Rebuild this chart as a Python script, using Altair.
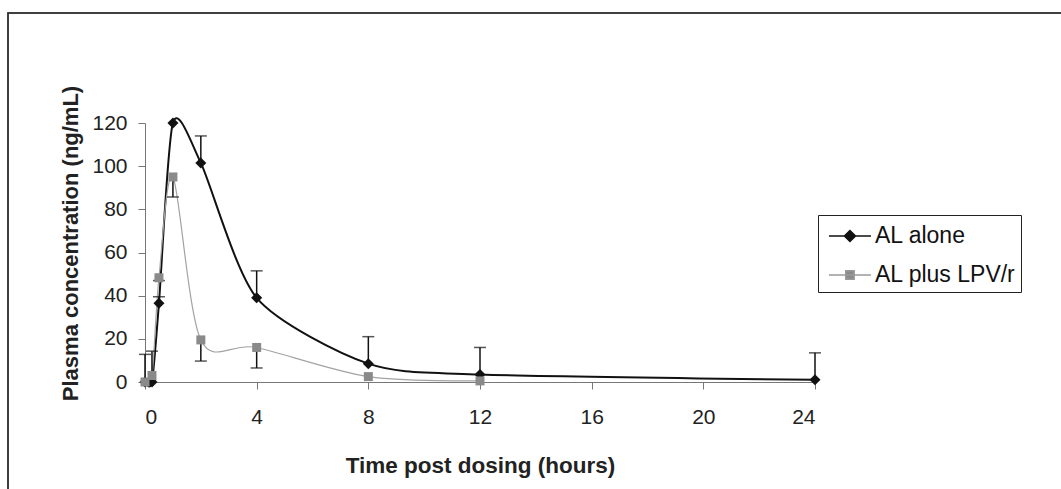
import altair as alt
import pandas as pd

# Sampling times (hours) and mean plasma concentrations (ng/mL)
time_al = [0, 0.25, 0.5, 1, 2, 4, 8, 12, 24]
conc_al = [0, 0, 36.5, 120, 101.5, 39, 8.5, 3.5, 1]
upper_al = [12.8, 14.3, 39.5, None, 114, 51.5, 21, 16, 13.5]

time_lpv = [0, 0.25, 0.5, 1, 2, 4, 8, 12]
conc_lpv = [0, 3, 48.3, 95, 19.5, 16, 2.5, 0.5]
lower_lpv = [None, None, 47, 85.7, 9.7, 6.5, None, None]

series = ["AL alone", "AL plus LPV/r"]
x_ticks = [0, 4, 8, 12, 16, 20, 24]
y_ticks = [0, 20, 40, 60, 80, 100, 120]

FONT = "Liberation Sans"

al = pd.DataFrame({"t": time_al, "c": conc_al, "err": upper_al})
lpv = pd.DataFrame({"t": time_lpv, "c": conc_lpv, "err": lower_lpv})
al_err = al.dropna()
lpv_err = lpv.dropna()
leg = pd.DataFrame({"series": series})

x_enc = alt.X("t:Q", scale=alt.Scale(domain=[0, 24], nice=False),
              axis=alt.Axis(values=x_ticks, title="Time post dosing (hours)",
                            titleY=90, titleBaseline="alphabetic", titleFontSize=22.5,
                            labelPadding=17, tickSize=7))
y_enc = alt.Y("c:Q", scale=alt.Scale(domain=[0, 120], nice=False),
              axis=alt.Axis(values=y_ticks, title="Plasma concentration (ng/mL)",
                            titleX=-68, titleY=120, titleBaseline="alphabetic", titleFontSize=22,
                            labelPadding=11, tickSize=7))

# Outer border of the figure
frame = alt.Chart(leg).mark_rect(fillOpacity=0, stroke="#333", strokeWidth=1.5).encode(
    x=alt.value(-137), x2=alt.value(930), y=alt.value(-110), y2=alt.value(380)
)

base_al = alt.Chart(al)
base_lpv = alt.Chart(lpv)

# Smoothed connecting curves
line_al = base_al.mark_line(interpolate="cardinal", tension=0.25, color="#111", strokeWidth=2).encode(
    x=x_enc, y=y_enc)
line_lpv = base_lpv.mark_line(interpolate="cardinal", tension=0.1, color="#a3a3a3", strokeWidth=1.2).encode(
    x="t:Q", y="c:Q")

# Error bars: upward for AL alone, downward for AL plus LPV/r
bar_al = alt.Chart(al_err).mark_rule(color="#111", strokeWidth=1.5).encode(x="t:Q", y="c:Q", y2="err:Q")
cap_al = alt.Chart(al_err).mark_tick(orient="horizontal", color="#111", size=12, thickness=1.5).encode(
    x="t:Q", y="err:Q")
bar_lpv = alt.Chart(lpv_err).mark_rule(color="#111", strokeWidth=1.5).encode(x="t:Q", y="c:Q", y2="err:Q")
cap_lpv = alt.Chart(lpv_err).mark_tick(orient="horizontal", color="#111", size=12, thickness=1.5).encode(
    x="t:Q", y="err:Q")

pts_al = base_al.mark_point(shape="diamond", filled=True, color="#111", size=121, opacity=1).encode(
    x="t:Q", y="c:Q")
pts_lpv = base_lpv.mark_point(shape="square", filled=True, color="#8a8a8a", size=81, opacity=1).encode(
    x="t:Q", y="c:Q")

# Legend: line-with-marker glyphs as custom symbol paths
path_al = "M-0.67,0L2.13,0M0.73,-0.37L1.1,0L0.73,0.37L0.36,0Z"
path_lpv = "M-0.67,0L2.13,0M0.45,-0.28L1.01,-0.28L1.01,0.28L0.45,0.28Z"
legend = alt.Legend(title=None, orient="none", legendX=673, legendY=92,
                    strokeColor="#222", fillColor="white", padding=5,
                    symbolSize=900, symbolStrokeWidth=1.5, symbolOpacity=1,
                    labelFont=FONT, labelFontSize=23, labelColor="#111",
                    labelOffset=20, rowPadding=11)
leg_layer = alt.Chart(leg).mark_point(filled=True, opacity=0).encode(
    x=alt.value(0), y=alt.value(0),
    shape=alt.Shape("series:N", scale=alt.Scale(domain=series, range=[path_al, path_lpv]), legend=legend),
    fill=alt.Fill("series:N", scale=alt.Scale(domain=series, range=["#111", "#8a8a8a"]), legend=legend),
    stroke=alt.Stroke("series:N", scale=alt.Scale(domain=series, range=["#111", "#9a9a9a"]), legend=legend),
)

chart = alt.layer(
    frame, line_al, line_lpv, bar_al, cap_al, bar_lpv, cap_lpv, pts_al, pts_lpv, leg_layer
).properties(
    width=670, height=259,
    autosize=alt.AutoSizeParams(type="none"),
    padding={"left": 145, "top": 123, "right": 246, "bottom": 107},
    background="white",
).configure_view(stroke=None).configure_axis(
    grid=False, domainColor="#777", tickColor="#777", domainWidth=1, tickWidth=1,
    labelFont=FONT, labelFontSize=21, labelColor="#222",
    titleFont=FONT, titleFontWeight="bold", titleColor="#222",
)

chart.save("out.html", embed_options={"renderer": "svg", "actions": False})
